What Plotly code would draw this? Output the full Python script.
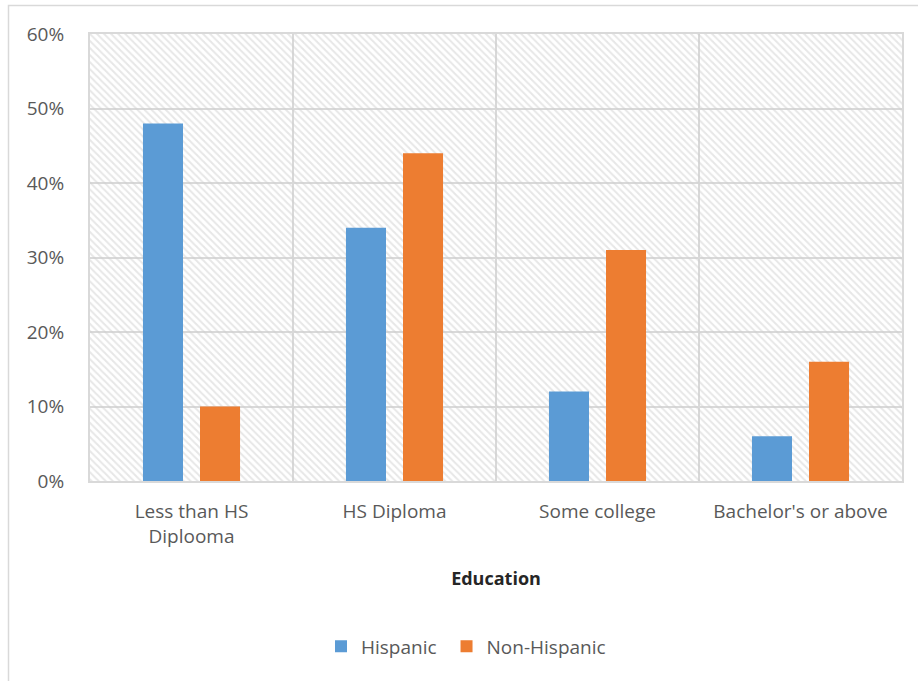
import plotly.graph_objects as go

categories = ["Less than HS<br>Diplooma", "HS Diploma", "Some college", "Bachelor's or above"]
hispanic = [0.48, 0.34, 0.12, 0.06]
non_hispanic = [0.10, 0.44, 0.31, 0.16]
series_names = ["Hispanic\u00a0", "Non-Hispanic"]
y_max = 0.6
y_ticks = [0, 0.1, 0.2, 0.3, 0.4, 0.5, 0.6]

W, H = 918, 681
L, R, T, B = 90, 16, 34, 200

FONT = "Open Sans, Liberation Sans, sans-serif"
tick_font = dict(family=FONT, size=19, color="#595959")

fig = go.Figure()

# hatched plot-area background (on main axes, drawn under the data subplot)
fig.add_trace(go.Bar(
    x=categories, y=[y_max] * len(categories), width=1.0,
    marker=dict(color="rgba(0,0,0,0)", line=dict(width=0),
                pattern=dict(shape="\\", fgcolor="#cfcfcf", bgcolor="rgba(0,0,0,0)",
                             size=5, solidity=0.4)),
    showlegend=False, hoverinfo="skip", xaxis="x", yaxis="y"))

fig.add_trace(go.Bar(name=series_names[0], x=categories, y=hispanic,
                     marker=dict(color="#5b9bd5", line=dict(width=0)),
                     xaxis="x2", yaxis="y2"))
fig.add_trace(go.Bar(name=series_names[1], x=categories, y=non_hispanic,
                     marker=dict(color="#ed7d31", line=dict(width=0)),
                     xaxis="x2", yaxis="y2"))

fig.update_layout(
    width=W, height=H,
    margin=dict(l=L, r=R, t=T, b=B),
    paper_bgcolor="white", plot_bgcolor="white",
    barmode="group", bargap=0.438, bargroupgap=0.298,
    font=tick_font,
    xaxis=dict(type="category", categoryorder="array", categoryarray=categories,
               range=[-0.5, 3.5], tickson="boundaries", showgrid=True,
               gridcolor="#d9d9d9", gridwidth=2, ticks="", showline=True,
               linecolor="#d9d9d9", linewidth=2, mirror=True, tickfont=tick_font,
               ticklabelstandoff=12,
               title=dict(text="<b>Education</b>", standoff=25,
                          font=dict(family=FONT, size=18, color="#262626")),
               zeroline=False),
    yaxis=dict(range=[0, y_max], tickvals=y_ticks, tickformat=".0%",
               showgrid=True, gridcolor="#d9d9d9", gridwidth=2, zeroline=False,
               showline=True, linecolor="#d9d9d9", linewidth=2, mirror=True, ticks="",
               ticklabelstandoff=20, tickfont=tick_font),
    xaxis2=dict(type="category", categoryorder="array", categoryarray=categories,
                range=[-0.5, 3.5], overlaying="x", showgrid=False,
                showticklabels=False, zeroline=False, showline=False),
    yaxis2=dict(range=[0, y_max], overlaying="y", showgrid=False,
                showticklabels=False, zeroline=False, showline=False),
    legend=dict(orientation="h", x=(321 - L) / (W - L - R), xanchor="left",
                y=-0.37, yanchor="middle",
                font=tick_font, itemwidth=30, traceorder="normal"),
    showlegend=True,
)

# outer chart border
pw, ph = W - L - R, H - T - B
fig.add_shape(type="rect", xref="paper", yref="paper",
              x0=(8.5 - L) / pw, x1=(W + 5 - L) / pw,
              y0=(H - B - (H + 5)) / ph, y1=(H - B - 5.5) / ph,
              line=dict(color="#d9d9d9", width=1.5), fillcolor="rgba(0,0,0,0)", layer="below")

fig.write_html("out.html", config={"displayModeBar": False},
               post_script="document.body.style.margin='0';")
